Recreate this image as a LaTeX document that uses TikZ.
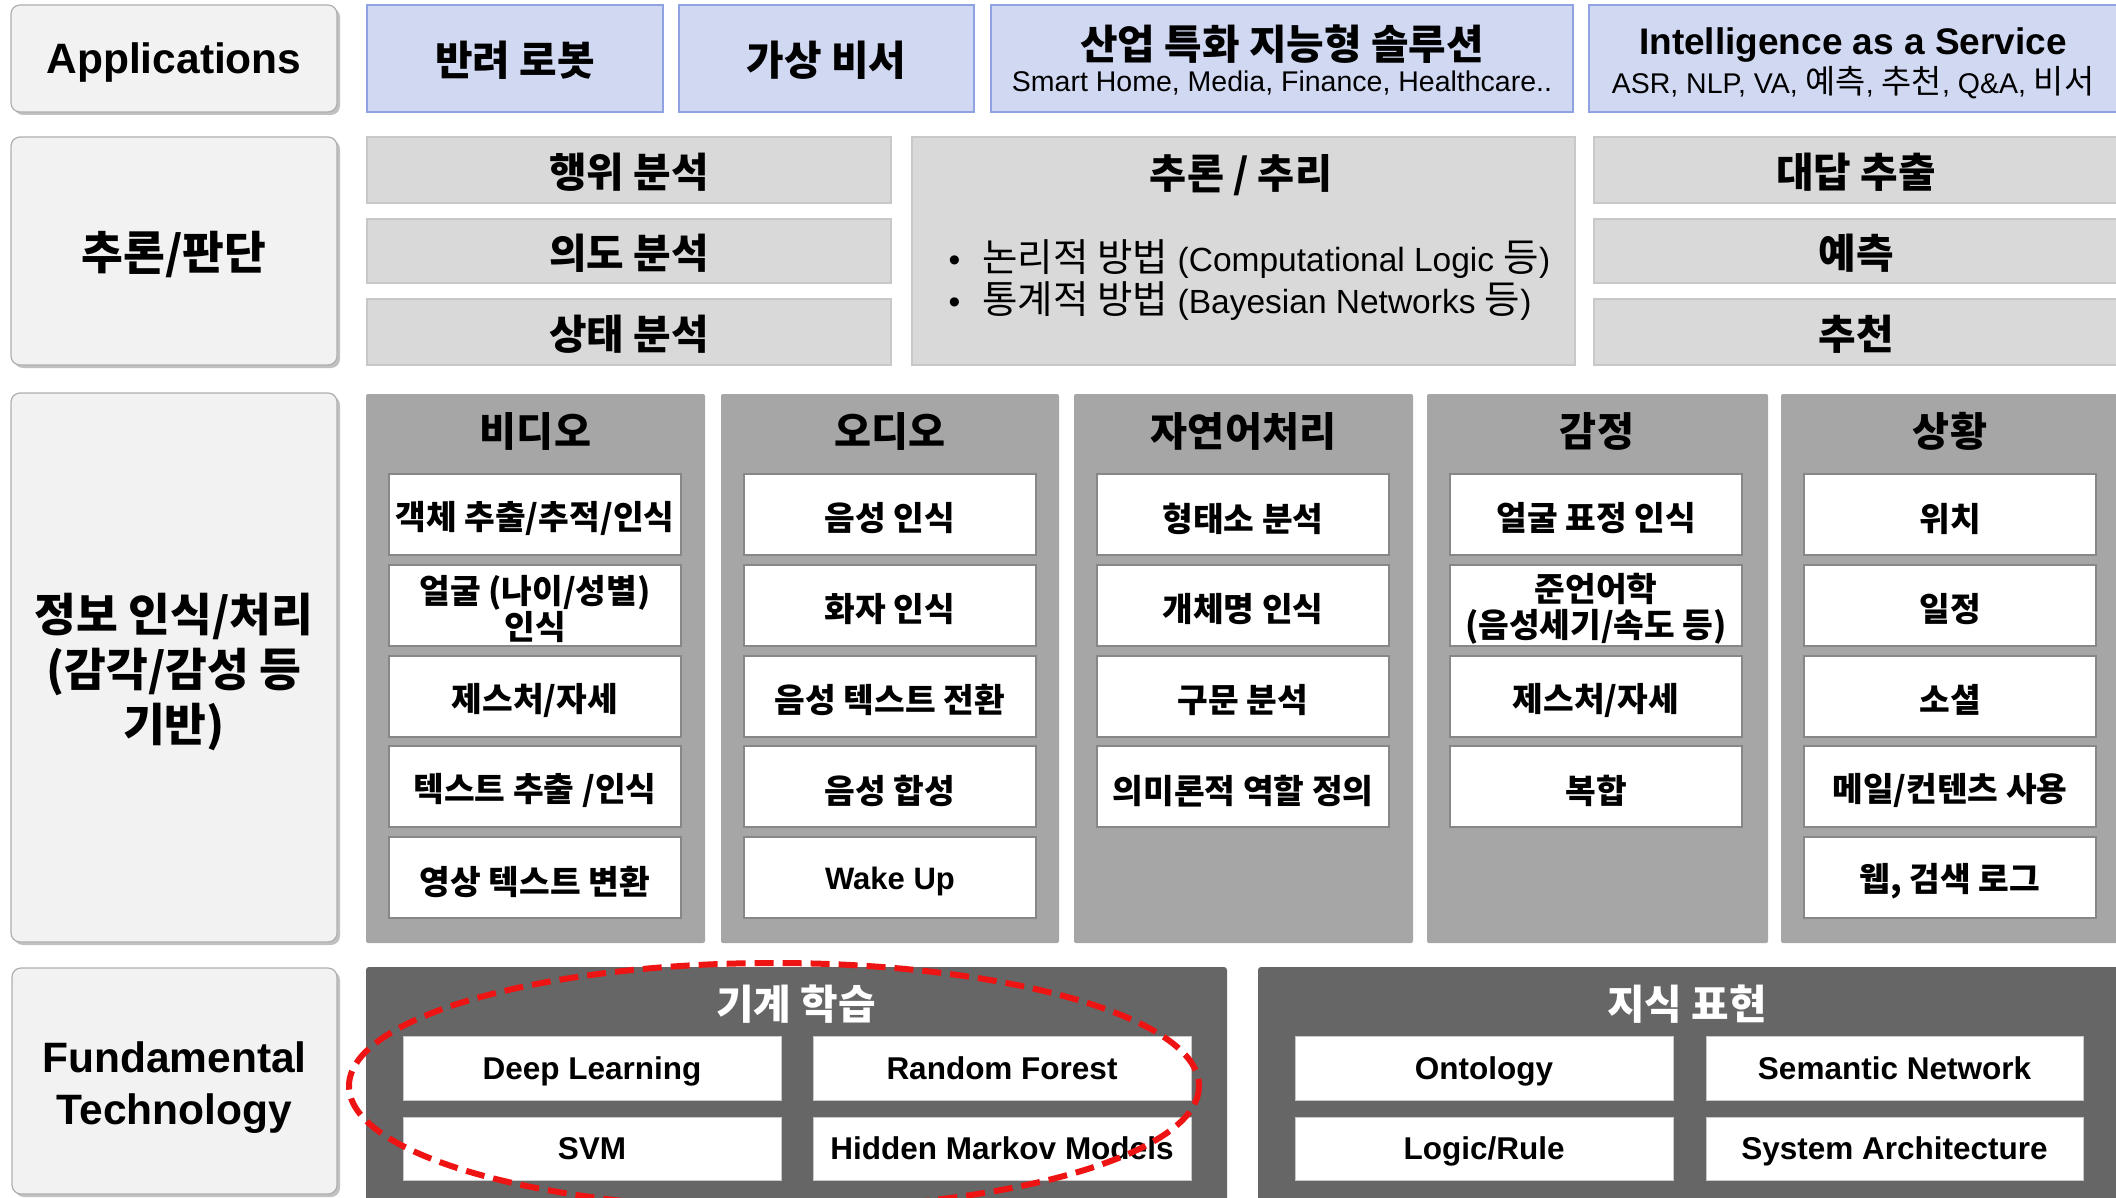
\documentclass[tikz,border=0pt]{standalone}
\usepackage{fontspec}
\setmainfont{Liberation Sans}
\newfontfamily\cjk{Noto Sans CJK KR}[Scale=1.15]
\usetikzlibrary{shadows}
\definecolor{lblfill}{RGB}{242,242,242}
\definecolor{lblline}{RGB}{175,175,175}
\definecolor{appfill}{RGB}{209,216,242}
\definecolor{appline}{RGB}{143,163,226}
\definecolor{midfill}{RGB}{217,217,217}
\definecolor{midline}{RGB}{200,200,200}
\definecolor{colfill}{RGB}{166,166,166}
\definecolor{cellline}{RGB}{135,135,135}
\definecolor{fundfill}{RGB}{102,102,102}
\definecolor{techline}{RGB}{200,200,200}
\definecolor{ellred}{RGB}{238,20,20}

% box node #1 with style #2, text node #1t with style #3, corners (#4,#5)-(#6,#7), text #8
\newcommand{\mkbox}[8]{%
  \pgfmathsetmacro{\myboxw}{#6-#4}%
  \pgfmathsetmacro{\myboxh}{#7-#5}%
  \node[#2, anchor=north west, minimum width=\myboxw pt, minimum height=\myboxh pt, inner sep=0pt, outer sep=0pt] (#1) at (#4,#5) {};
  \node[#3] (#1t) at (#1.center) {#8};}
\newcommand{\mkcell}[4]{%
  \pgfmathsetmacro{\mycellx}{#2+23}%
  \pgfmathsetmacro{\mycelly}{474+90.75*#3}%
  \node[cellbox, anchor=north west] (#1) at (\mycellx,\mycelly) {};
  \node[celltext] (#1t) at (#1.center) {#4};}

\begin{document}
\begin{tikzpicture}[x=1pt,y=-1pt,
  lblbox/.style={draw=lblline, fill=lblfill, line width=1.2pt, rounded corners=9pt,
    drop shadow={shadow xshift=3pt, shadow yshift=-3pt, opacity=0.35, fill=black!70}},
  appbox/.style={draw=appline, fill=appfill, line width=1.5pt},
  midbox/.style={draw=midline, fill=midfill, line width=1.2pt},
  colbox/.style={fill=colfill, rounded corners=2pt},
  cellbox/.style={draw=cellline, fill=white, line width=2pt, minimum width=292pt, minimum height=81pt,
    inner sep=0pt, outer sep=0pt},
  celltext/.style={align=center, yshift=-4pt, font=\cjk\bfseries\fontsize{29}{36}\selectfont},
  fundbox/.style={fill=fundfill, rounded corners=3pt},
  techbox/.style={draw=techline, fill=white, line width=1pt},
  techtext/.style={text depth=0pt, font=\bfseries\fontsize{31.5}{36}\selectfont},
  krbig/.style={align=center, yshift=-4pt, font=\cjk\bfseries\fontsize{39.5}{55}\selectfont},
  enbig/.style={text depth=0pt, font=\bfseries\fontsize{42.5}{53}\selectfont},
  krhead/.style={yshift=-2pt, font=\cjk\bfseries\fontsize{35.5}{42}\selectfont},
  colhead/.style={font=\cjk\bfseries\fontsize{35}{42}\selectfont},
  ensub/.style={text depth=0pt, font=\fontsize{28.5}{32}\selectfont},
  enhead/.style={text depth=0pt, font=\bfseries\fontsize{37}{42}\selectfont},
  whitehead/.style={text=white, font=\cjk\bfseries\fontsize{35.5}{42}\selectfont},
  notext/.style={}
]
\path[use as bounding box] (0,0) rectangle (2116,1198);
\clip (0,0) rectangle (2116,1198);

% ---------- left labels ----------
\mkbox{lapp}{lblbox}{notext}{11}{5}{337}{112}{}
\mkbox{linf}{lblbox}{krbig}{11}{137}{337}{365}{추론/판단}
\mkbox{lper}{lblbox}{krbig}{11}{393}{337}{942}{정보 인식/처리\\(감각/감성 등\\기반)}
\mkbox{lfun}{lblbox}{notext}{12}{968}{337}{1194}{}
\node[enbig] (lappl) at (174,58) {Applications};
\node[enbig] (lfunl1) at (174.5,1057) {Fundamental};
\node[enbig] (lfunl2) at (174.5,1109) {Technology};

% ---------- row 1: applications ----------
\mkbox{app1}{appbox}{krhead}{367}{5}{663}{112}{반려 로봇}
\mkbox{app2}{appbox}{krhead}{679}{5}{974}{112}{가상 비서}
\mkbox{app3}{appbox}{notext}{991}{5}{1573}{112}{}
\mkbox{app4}{appbox}{notext}{1589}{5}{2118}{112}{}
\node[krhead] (app3h) at (1282,42) {산업 특화 지능형 솔루션};
\node[ensub] (app3s) at (1282,81) {Smart Home, Media, Finance, Healthcare..};
\node[enhead] (app4h) at (1853,41) {Intelligence as a Service};
\node[ensub] (app4s) at (1853,80) {ASR, NLP, VA, {\cjk 예측}, {\cjk 추천}, Q\&A, {\cjk 비서}};

% ---------- row 2: reasoning ----------
\mkbox{beh}{midbox}{krhead}{367}{137}{891}{203}{행위 분석}
\mkbox{int}{midbox}{krhead}{367}{219}{891}{283}{의도 분석}
\mkbox{sta}{midbox}{krhead}{367}{299}{891}{365}{상태 분석}
\mkbox{rea}{midbox}{notext}{912}{137}{1575}{365}{}
\node[font=\cjk\bfseries\fontsize{35}{42}\selectfont, yshift=-2pt] (reah) at (1241,173) {추론 / 추리};
\node[anchor=west, align=left, font=\fontsize{33.5}{42}\selectfont] (reab) at (945,280)
  {\makebox[34pt][l]{\textbullet}{\cjk 논리적 방법} (Computational Logic {\cjk 등})\\
   \makebox[34pt][l]{\textbullet}{\cjk 통계적 방법} (Bayesian Networks {\cjk 등})};
\mkbox{ans}{midbox}{krhead}{1594}{137}{2118}{203}{대답 추출}
\mkbox{pre}{midbox}{krhead}{1594}{219}{2118}{283}{예측}
\mkbox{rec}{midbox}{krhead}{1594}{299}{2118}{365}{추천}

% ---------- row 3: perception columns ----------
\mkbox{cvid}{colbox}{notext}{366}{394}{705}{943}{}
\mkbox{caud}{colbox}{notext}{721}{394}{1059}{943}{}
\mkbox{cnlp}{colbox}{notext}{1074}{394}{1413}{943}{}
\mkbox{cemo}{colbox}{notext}{1427}{394}{1768}{943}{}
\mkbox{csit}{colbox}{notext}{1781}{394}{2120}{943}{}
\node[colhead] (hvid) at (535.5,431) {비디오};
\node[colhead] (haud) at (890,431) {오디오};
\node[colhead] (hnlp) at (1243.5,431) {자연어처리};
\node[colhead] (hemo) at (1597,431) {감정};
\node[colhead] (hsit) at (1950,431) {상황};

\mkcell{v1}{366}{0}{객체 추출/추적/인식}
\mkcell{v2}{366}{1}{얼굴 (나이/성별)\\인식}
\mkcell{v3}{366}{2}{제스처/자세}
\mkcell{v4}{366}{3}{텍스트 추출 /인식}
\mkcell{v5}{366}{4}{영상 텍스트 변환}

\mkcell{a1}{721}{0}{음성 인식}
\mkcell{a2}{721}{1}{화자 인식}
\mkcell{a3}{721}{2}{음성 텍스트 전환}
\mkcell{a4}{721}{3}{음성 합성}
\mkcell{a5}{721}{4}{\raisebox{3pt}[\height][0pt]{\rmfamily\bfseries\fontsize{31}{36}\selectfont Wake Up}}

\mkcell{n1}{1074}{0}{형태소 분석}
\mkcell{n2}{1074}{1}{개체명 인식}
\mkcell{n3}{1074}{2}{구문 분석}
\mkcell{n4}{1074}{3}{의미론적 역할 정의}

\mkcell{e1}{1427}{0}{얼굴 표정 인식}
\mkcell{e2}{1427}{1}{준언어학\\(음성세기/속도 등)}
\mkcell{e3}{1427}{2}{제스처/자세}
\mkcell{e4}{1427}{3}{복합}

\mkcell{s1}{1781}{0}{위치}
\mkcell{s2}{1781}{1}{일정}
\mkcell{s3}{1781}{2}{소셜}
\mkcell{s4}{1781}{3}{메일/컨텐츠 사용}
\mkcell{s5}{1781}{4}{웹, 검색 로그}

% ---------- row 4: fundamental technology ----------
\mkbox{pml}{fundbox}{notext}{366}{967}{1227}{1205}{}
\mkbox{pkr}{fundbox}{notext}{1258}{967}{2120}{1205}{}
\node[whitehead] (tml) at (796,1004) {기계 학습};
\node[whitehead] (tkr) at (1687,1004) {지식 표현};
\mkbox{dl}{techbox}{techtext}{403}{1036}{781}{1100}{Deep Learning}
\mkbox{rf}{techbox}{techtext}{813}{1036}{1191}{1100}{Random Forest}
\mkbox{svm}{techbox}{techtext}{403}{1117}{781}{1180}{SVM}
\mkbox{hmm}{techbox}{techtext}{813}{1117}{1191}{1180}{Hidden Markov Models}
\mkbox{ont}{techbox}{techtext}{1295}{1036}{1673}{1100}{Ontology}
\mkbox{sem}{techbox}{techtext}{1706}{1036}{2083}{1100}{Semantic Network}
\mkbox{log}{techbox}{techtext}{1295}{1117}{1673}{1180}{Logic/Rule}
\mkbox{sys}{techbox}{techtext}{1706}{1117}{2083}{1180}{System Architecture}

% ---------- red dashed highlight ----------
\draw[ellred, line width=6pt, dash pattern=on 19pt off 9pt] (774,1086) ellipse [x radius=425, y radius=123];
\end{tikzpicture}
\end{document}
